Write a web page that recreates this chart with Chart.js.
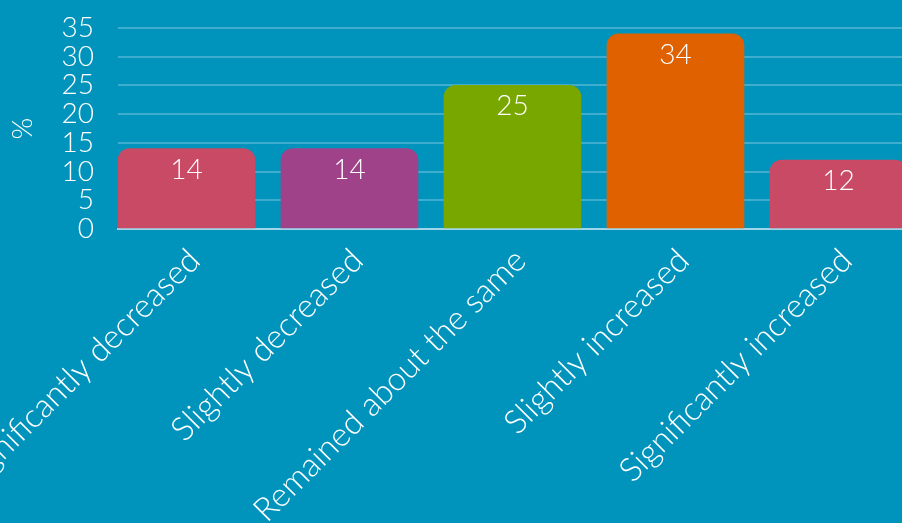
<!DOCTYPE html>
<html>
<head>
<meta charset="utf-8">
<script src="https://cdn.jsdelivr.net/npm/chart.js@4"></script>
<style>
  html, body { margin: 0; padding: 0; overflow: hidden; background: #0094bc; }
  #wrap { position: absolute; left: 0; top: 0; width: 933px; height: 523px; }
</style>
</head>
<body>
<div id="wrap"><canvas id="chart"></canvas></div>
<script>
const categories = [
    'Significantly decreased',
    'Slightly decreased',
    'Remained about the same',
    'Slightly increased',
    'Significantly increased'
];
const values = [14, 14, 25, 34, 12];
const barColors = ['#c94a64', '#a0428a', '#78a700', '#e06100', '#c94a64'];
const yTicks = [0, 5, 10, 15, 20, 25, 30, 35];

const FONT = 'Lato, "Open Sans", sans-serif';

// draws the value inside the top of every bar
const valueLabels = {
    id: 'valueLabels',
    afterDatasetsDraw(chart) {
        const ctx = chart.ctx;
        const meta = chart.getDatasetMeta(0);
        ctx.save();
        ctx.fillStyle = '#ffffff';
        ctx.font = '300 28px ' + FONT;
        ctx.textAlign = 'center';
        ctx.textBaseline = 'middle';
        meta.data.forEach((bar, i) => {
            ctx.fillText(String(values[i]), bar.x, bar.y + 21);
        });
        ctx.restore();
    }
};

new Chart(document.getElementById('chart'), {
    type: 'bar',
    data: {
        datasets: [{
            data: values.map((v, i) => ({ x: i, y: v })),
            backgroundColor: barColors,
            borderRadius: { topLeft: 12, topRight: 12 },
            borderSkipped: 'bottom',
            barThickness: 137
        }]
    },
    options: {
        responsive: true,
        maintainAspectRatio: false,
        animation: false,
        layout: { padding: { top: 28, right: 0, left: 0, bottom: 0 } },
        plugins: {
            legend: { display: false },
            tooltip: { enabled: false }
        },
        scales: {
            x: {
                type: 'linear',
                offset: false,
                min: -0.42,
                max: 4.58,
                afterBuildTicks(scale) {
                    scale.ticks = categories.map((c, i) => ({ value: i }));
                },
                grid: { display: false },
                border: { color: '#9fd6ea', width: 2 },
                ticks: {
                    color: '#ffffff',
                    font: { family: FONT, size: 33, weight: '300' },
                    minRotation: 45,
                    maxRotation: 45,
                    autoSkip: false,
                    padding: 4,
                    labelOffset: 8,
                    callback: (v, i) => categories[i]
                },
                afterFit(scale) {
                    scale.height = 294;
                    scale.paddingLeft = 0;
                    scale.paddingRight = 0;
                }
            },
            y: {
                min: 0,
                max: 35,
                afterBuildTicks(scale) {
                    scale.ticks = yTicks.map(v => ({ value: v }));
                },
                grid: { color: '#3fadd0', lineWidth: 2, drawTicks: false },
                border: { display: false },
                ticks: {
                    color: '#ffffff',
                    font: { family: FONT, size: 28, weight: '300' },
                    padding: 24,
                    autoSkip: false
                },
                title: {
                    display: true,
                    text: '%',
                    color: '#ffffff',
                    font: { family: FONT, size: 28, weight: '300' },
                    padding: { top: 6, bottom: 0 }
                },
                afterFit(scale) {
                    scale.width = 118;
                    scale.paddingTop = 0;
                    scale.paddingBottom = 0;
                }
            }
        }
    },
    plugins: [valueLabels]
});
</script>
</body>
</html>
